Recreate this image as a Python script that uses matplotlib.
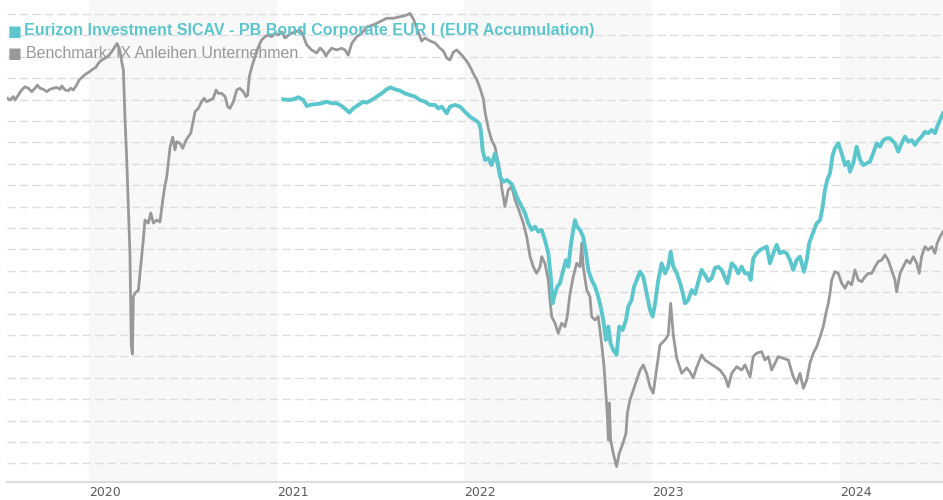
####### IMPORT BLOCK #######

import matplotlib
matplotlib.use("Agg")
import numpy as np
import matplotlib.pyplot as plt

####### DATA BLOCK #######

# benchmark: decimal year and indexed value
bench_years = [
    2019.565, 2019.579, 2019.597, 2019.606, 2019.623, 2019.641, 2019.659, 2019.677, 2019.695, 2019.712,
    2019.725, 2019.739, 2019.757, 2019.775, 2019.792, 2019.810, 2019.828, 2019.845, 2019.855, 2019.872,
    2019.890, 2019.902, 2019.916, 2019.934, 2019.948, 2019.966, 2019.984, 2020.002, 2020.020, 2020.037,
    2020.050, 2020.068, 2020.085, 2020.103, 2020.121, 2020.133, 2020.149, 2020.161, 2020.169, 2020.174,
    2020.183, 2020.186, 2020.192, 2020.201, 2020.209, 2020.218, 2020.222, 2020.225, 2020.231, 2020.236,
    2020.245, 2020.263, 2020.272, 2020.281, 2020.289, 2020.298, 2020.316, 2020.329, 2020.343, 2020.361,
    2020.378, 2020.393, 2020.405, 2020.414, 2020.432, 2020.446, 2020.458, 2020.467, 2020.485, 2020.499,
    2020.517, 2020.529, 2020.542, 2020.556, 2020.565, 2020.582, 2020.600, 2020.613, 2020.627, 2020.645,
    2020.662, 2020.677, 2020.689, 2020.707, 2020.725, 2020.739, 2020.751, 2020.769, 2020.787, 2020.804,
    2020.822, 2020.836, 2020.845, 2020.854, 2020.867, 2020.884, 2020.902, 2020.920, 2020.938, 2020.955,
    2020.973, 2020.991, 2021.009, 2021.027, 2021.044, 2021.071, 2021.097, 2021.124, 2021.140, 2021.160,
    2021.186, 2021.213, 2021.231, 2021.248, 2021.263, 2021.275, 2021.293, 2021.320, 2021.346, 2021.364,
    2021.381, 2021.400, 2021.426, 2021.453, 2021.479, 2021.515, 2021.550, 2021.586, 2021.621, 2021.657,
    2021.693, 2021.710, 2021.728, 2021.754, 2021.772, 2021.790, 2021.817, 2021.843, 2021.870, 2021.888,
    2021.906, 2021.923, 2021.941, 2021.959, 2021.986, 2022.012, 2022.030, 2022.047, 2022.066, 2022.083,
    2022.101, 2022.110, 2022.127, 2022.145, 2022.163, 2022.174, 2022.190, 2022.199, 2022.207, 2022.216,
    2022.234, 2022.252, 2022.270, 2022.296, 2022.314, 2022.332, 2022.350, 2022.367, 2022.385, 2022.403,
    2022.412, 2022.429, 2022.447, 2022.456, 2022.465, 2022.483, 2022.500, 2022.518, 2022.536, 2022.548,
    2022.563, 2022.580, 2022.598, 2022.616, 2022.625, 2022.633, 2022.652, 2022.669, 2022.678, 2022.696,
    2022.713, 2022.722, 2022.731, 2022.744, 2022.754, 2022.761, 2022.767, 2022.772, 2022.779, 2022.793,
    2022.811, 2022.825, 2022.838, 2022.850, 2022.861, 2022.868, 2022.882, 2022.900, 2022.918, 2022.936,
    2022.953, 2022.971, 2022.989, 2023.006, 2023.025, 2023.042, 2023.069, 2023.086, 2023.099, 2023.113,
    2023.131, 2023.158, 2023.184, 2023.202, 2023.219, 2023.238, 2023.264, 2023.282, 2023.308, 2023.335,
    2023.362, 2023.388, 2023.406, 2023.424, 2023.451, 2023.477, 2023.495, 2023.522, 2023.539, 2023.557,
    2023.584, 2023.601, 2023.619, 2023.637, 2023.655, 2023.672, 2023.699, 2023.726, 2023.752, 2023.770,
    2023.788, 2023.806, 2023.824, 2023.841, 2023.859, 2023.877, 2023.895, 2023.912, 2023.926, 2023.939,
    2023.948, 2023.957, 2023.974, 2023.992, 2024.010, 2024.028, 2024.045, 2024.063, 2024.081, 2024.099,
    2024.117, 2024.134, 2024.152, 2024.170, 2024.188, 2024.205, 2024.223, 2024.241, 2024.258, 2024.276,
    2024.294, 2024.303, 2024.321, 2024.338, 2024.356, 2024.374, 2024.392, 2024.410, 2024.423, 2024.436,
    2024.454, 2024.471, 2024.490, 2024.507, 2024.519, 2024.534, 2024.550,
]
bench_values = [
    106.06, 105.98, 106.14, 105.98, 106.21, 106.45, 106.60, 106.53, 106.37, 106.53,
    106.68, 106.53, 106.48, 106.37, 106.48, 106.53, 106.57, 106.48, 106.64, 106.45,
    106.42, 106.53, 106.45, 106.68, 106.92, 107.07, 107.20, 107.30, 107.42, 107.51,
    107.70, 107.85, 107.93, 108.04, 108.24, 108.40, 108.62, 108.40, 108.08, 107.77,
    107.38, 106.60, 105.05, 103.18, 101.17, 98.83, 96.50, 94.53, 94.11, 96.78,
    96.96, 97.10, 97.90, 98.69, 99.44, 100.37, 100.23, 100.70, 100.23, 100.37,
    100.28, 101.31, 102.01, 102.38, 103.79, 104.25, 103.65, 104.03, 103.96, 103.72,
    104.11, 104.27, 104.43, 105.05, 105.43, 105.59, 105.90, 106.06, 105.90, 105.98,
    106.06, 106.45, 106.29, 106.29, 106.14, 105.67, 105.59, 105.90, 106.45, 106.53,
    106.37, 106.14, 106.21, 107.07, 107.52, 107.99, 108.46, 108.79, 108.94, 109.02,
    108.94, 109.10, 109.02, 109.17, 108.88, 109.07, 109.16, 109.25, 109.02, 108.55,
    108.32, 108.18, 108.41, 108.27, 108.04, 108.22, 108.40, 108.32, 108.40, 108.32,
    108.08, 108.63, 108.94, 109.10, 109.39, 109.49, 109.64, 109.80, 109.80, 109.87,
    109.95, 110.03, 109.77, 109.16, 108.74, 108.88, 108.74, 108.65, 108.40, 108.27,
    107.94, 107.85, 108.22, 108.32, 108.08, 107.80, 107.54, 107.23, 106.92, 106.54,
    106.03, 105.42, 104.67, 104.11, 103.80, 103.32, 102.62, 101.87, 101.45, 101.00,
    101.78, 101.93, 101.31, 100.69, 100.22, 99.59, 98.66, 98.19, 97.88, 98.19,
    98.66, 98.35, 97.57, 96.64, 95.86, 95.55, 95.08, 95.55, 95.39, 95.86,
    96.95, 97.72, 98.35, 98.19, 99.29, 98.19, 97.10, 96.79, 95.86, 95.70,
    95.86, 95.23, 94.61, 93.52, 92.28, 91.34, 90.09, 91.82, 90.09, 89.47,
    88.85, 89.47, 89.78, 90.09, 90.41, 91.34, 91.96, 92.43, 92.90, 93.36,
    93.60, 93.21, 92.58, 92.28, 93.46, 94.53, 94.77, 95.00, 96.48, 95.00,
    93.92, 93.21, 93.46, 93.27, 92.99, 93.50, 94.07, 93.83, 93.68, 93.52,
    93.36, 93.05, 92.58, 93.21, 93.52, 93.36, 93.60, 93.05, 93.99, 94.15,
    94.22, 93.83, 93.99, 93.36, 93.68, 93.99, 93.91, 93.83, 93.05, 92.74,
    93.21, 92.51, 92.90, 93.68, 94.15, 94.45, 94.92, 95.39, 96.01, 96.48,
    96.95, 97.57, 97.96, 97.88, 97.42, 97.18, 97.49, 97.34, 98.04, 97.57,
    97.49, 97.72, 97.88, 97.88, 98.19, 98.43, 98.50, 98.74, 98.50, 98.04,
    97.57, 97.02, 97.88, 98.19, 98.50, 98.35, 98.66, 98.35, 97.88, 98.66,
    99.13, 98.97, 99.13, 98.82, 99.29, 99.59, 99.83,
]

# fund: decimal year and indexed value
fund_years = [
    2021.035, 2021.062, 2021.088, 2021.115, 2021.142, 2021.160, 2021.186, 2021.213, 2021.240, 2021.266,
    2021.293, 2021.320, 2021.346, 2021.373, 2021.387, 2021.408, 2021.435, 2021.461, 2021.479, 2021.506,
    2021.533, 2021.559, 2021.586, 2021.607, 2021.630, 2021.657, 2021.683, 2021.710, 2021.737, 2021.763,
    2021.790, 2021.817, 2021.843, 2021.861, 2021.879, 2021.906, 2021.923, 2021.950, 2021.977, 2022.003,
    2022.030, 2022.057, 2022.079, 2022.087, 2022.097, 2022.110, 2022.127, 2022.145, 2022.163, 2022.177,
    2022.190, 2022.207, 2022.227, 2022.252, 2022.279, 2022.305, 2022.323, 2022.340, 2022.359, 2022.376,
    2022.394, 2022.412, 2022.429, 2022.447, 2022.460, 2022.470, 2022.483, 2022.495, 2022.509, 2022.527,
    2022.541, 2022.554, 2022.566, 2022.580, 2022.589, 2022.601, 2022.616, 2022.633, 2022.648, 2022.660,
    2022.678, 2022.696, 2022.713, 2022.726, 2022.740, 2022.754, 2022.767, 2022.779, 2022.793, 2022.811,
    2022.825, 2022.843, 2022.861, 2022.873, 2022.891, 2022.904, 2022.918, 2022.936, 2022.953, 2022.971,
    2022.989, 2023.003, 2023.016, 2023.033, 2023.051, 2023.069, 2023.086, 2023.099, 2023.113, 2023.131,
    2023.149, 2023.166, 2023.175, 2023.193, 2023.211, 2023.229, 2023.246, 2023.264, 2023.282, 2023.299,
    2023.318, 2023.335, 2023.353, 2023.371, 2023.401, 2023.424, 2023.442, 2023.459, 2023.477, 2023.495,
    2023.513, 2023.525, 2023.539, 2023.557, 2023.575, 2023.592, 2023.611, 2023.628, 2023.646, 2023.664,
    2023.681, 2023.699, 2023.717, 2023.735, 2023.752, 2023.770, 2023.788, 2023.809, 2023.824, 2023.837,
    2023.856, 2023.877, 2023.895, 2023.909, 2023.921, 2023.933, 2023.948, 2023.962, 2023.974, 2023.992,
    2024.010, 2024.028, 2024.045, 2024.054, 2024.072, 2024.090, 2024.108, 2024.125, 2024.143, 2024.161,
    2024.178, 2024.197, 2024.214, 2024.232, 2024.250, 2024.267, 2024.294, 2024.312, 2024.330, 2024.347,
    2024.365, 2024.383, 2024.401, 2024.418, 2024.436, 2024.454, 2024.471, 2024.490, 2024.507, 2024.519,
    2024.534, 2024.550,
]
fund_values = [
    106.01, 105.98, 106.01, 106.11, 105.98, 105.70, 105.77, 105.79, 105.83, 105.90,
    105.83, 105.83, 105.70, 105.51, 105.39, 105.59, 105.75, 105.90, 105.86, 105.98,
    106.14, 106.29, 106.48, 106.57, 106.48, 106.42, 106.29, 106.21, 106.14, 105.98,
    105.90, 105.75, 105.75, 105.59, 105.67, 105.36, 105.67, 105.75, 105.67, 105.43,
    105.20, 105.05, 104.89, 104.58, 103.65, 103.18, 103.26, 102.94, 103.49, 103.02,
    102.40, 102.16, 102.24, 102.06, 101.46, 101.00, 100.69, 100.22, 99.91, 100.06,
    99.83, 99.91, 99.44, 98.82, 97.72, 96.48, 96.95, 97.26, 97.42, 98.04,
    98.50, 98.19, 99.13, 99.91, 100.37, 100.06, 99.91, 99.59, 98.82, 98.04,
    97.57, 97.26, 96.79, 96.32, 95.70, 94.77, 95.39, 94.61, 94.30, 94.07,
    95.39, 95.23, 95.70, 96.32, 96.64, 97.26, 97.57, 97.96, 97.72, 96.95,
    96.17, 95.86, 96.48, 97.57, 98.35, 97.88, 98.19, 98.89, 98.19, 97.90,
    97.43, 96.87, 96.48, 96.64, 97.10, 96.92, 97.48, 98.04, 97.80, 97.52,
    97.66, 98.13, 98.18, 98.04, 97.42, 98.35, 98.19, 97.88, 98.19, 97.88,
    97.88, 97.57, 98.58, 98.82, 98.97, 99.05, 99.13, 98.35, 98.82, 99.21,
    98.82, 98.89, 98.82, 98.50, 98.04, 98.50, 98.66, 97.96, 98.50, 99.29,
    99.75, 100.22, 100.37, 101.00, 101.78, 102.24, 102.56, 103.41, 103.72, 103.96,
    103.49, 102.94, 103.10, 102.63, 103.02, 103.80, 103.18, 102.94, 103.02, 103.10,
    103.49, 103.96, 103.80, 104.11, 104.19, 104.19, 103.96, 103.57, 103.96, 104.27,
    104.03, 104.11, 103.88, 104.11, 104.27, 104.50, 104.43, 104.58, 104.43, 104.73,
    105.05, 105.36,
]

tick_years = [2020, 2021, 2022, 2023, 2024]
shaded_years = [2020, 2022, 2024]
grid_values = list(range(89, 111))

fund_label = "Eurizon Investment SICAV - PB Bond Corporate EUR I (EUR Accumulation)"
bench_label = "Benchmark: IX Anleihen Unternehmen"

fund_color = "#5cc6cd"
bench_color = "#999999"


####### PLOT BLOCK #######

def draw_chart():
    fig = plt.figure(figsize=(9.43, 5.0), dpi=100)
    ax = fig.add_axes([7 / 943, 18 / 500, 936 / 943, 482 / 500])

    # alternating year shading
    for yr in shaded_years:
        ax.axvspan(yr, yr + 1, color="#f8f8f8", lw=0, zorder=0)

    # dashed horizontal grid
    ax.set_yticks(grid_values)
    ax.yaxis.grid(True, color="#dddddd", linewidth=1.0, linestyle=(0, (6, 3)), zorder=1)
    ax.tick_params(axis="y", left=False, labelleft=False)

    ax.plot(bench_years, bench_values, color=bench_color, linewidth=2.0,
            solid_joinstyle="round", zorder=3)
    ax.plot(fund_years, fund_values, color=fund_color, linewidth=2.8,
            solid_joinstyle="round", zorder=4)

    ax.set_xlim(2019.563, 2024.550)
    ax.set_ylim(88.13, 110.654)

    ax.set_xticks(tick_years)
    ax.set_xticklabels([str(y) for y in tick_years], fontsize=9, color="#5a5a5a")
    for lbl in ax.get_xticklabels():
        lbl.set_ha("left")
    ax.tick_params(axis="x", length=0, pad=3)

    for side in ["top", "left", "right"]:
        ax.spines[side].set_visible(False)
    ax.spines["bottom"].set_color("#dddddd")
    ax.spines["bottom"].set_linewidth(1.5)
    ax.set_facecolor("none")

    # legend drawn as text lines at the top left
    fig.text(8 / 943, 1 - 31 / 500, "\u25a0", color=fund_color, fontsize=10.5,
             va="center", ha="left", family="DejaVu Sans")
    fig.text(24 / 943, 1 - 31 / 500, fund_label, color=fund_color, fontsize=11.5,
             fontweight="bold", va="center", ha="left", family="Liberation Sans")
    fig.text(8 / 943, 1 - 54 / 500, "\u25a0", color=bench_color, fontsize=10.5,
             va="center", ha="left", family="DejaVu Sans")
    fig.text(26 / 943, 1 - 54 / 500, bench_label, color=bench_color, fontsize=11.5,
             va="center", ha="left", family="Liberation Sans")

    fig.savefig("out.png", dpi=100)


def main():
    draw_chart()


if __name__ == '__main__':
    main()
